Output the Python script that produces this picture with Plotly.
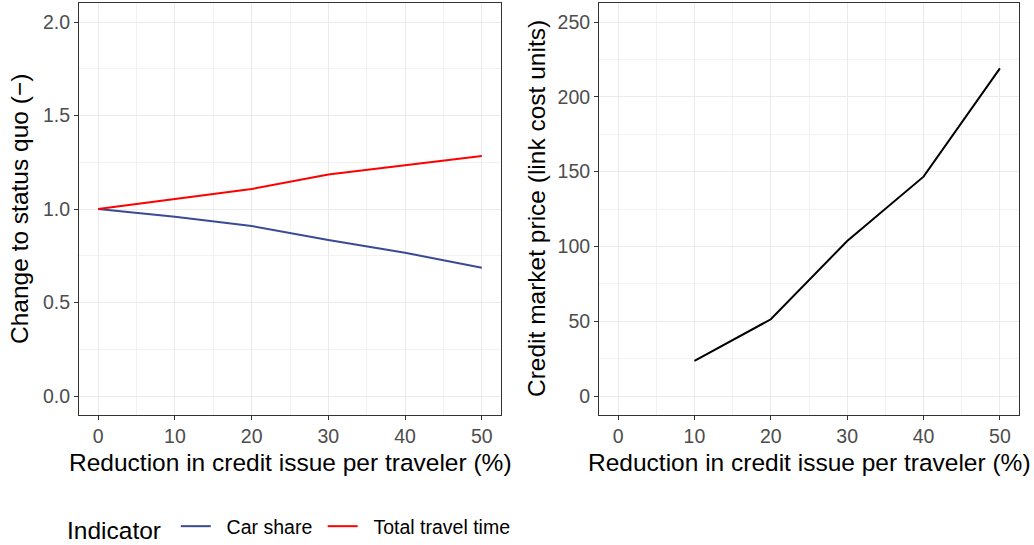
import plotly.graph_objects as go

reduction = [0, 10, 20, 30, 40, 50]
car_share = [1.0, 0.959, 0.909, 0.834, 0.766, 0.686]
travel_time = [1.0, 1.052, 1.107, 1.185, 1.235, 1.283]
price_x = [10, 20, 30, 40, 50]
price = [23.4, 51.3, 103.6, 146.6, 219.0]

left_yticks = [0.0, 0.5, 1.0, 1.5, 2.0]
left_yticktext = ["0.0", "0.5", "1.0", "1.5", "2.0"]
right_yticks = [0, 50, 100, 150, 200, 250]
xticks = [0, 10, 20, 30, 40, 50]

FONT = "Liberation Sans, Arial, Helvetica, sans-serif"
W, H = 1034, 545
TICK_SIZE = 19.5
TITLE_SIZE = 24.5
NB = "\u00a0"

fig = go.Figure()
fig.add_trace(go.Scatter(x=reduction, y=car_share, mode="lines", name=NB * 2 + "Car share" + NB,
                         line=dict(color="#3A4A94", width=2), xaxis="x", yaxis="y"))
fig.add_trace(go.Scatter(x=reduction, y=travel_time, mode="lines", name=NB * 2 + "Total travel time",
                         line=dict(color="#FF0000", width=2), xaxis="x", yaxis="y"))
fig.add_trace(go.Scatter(x=price_x, y=price, mode="lines", name="price", showlegend=False,
                         line=dict(color="#000000", width=2), xaxis="x2", yaxis="y2"))

ydom = [1 - 414.7 / H, 1 - 3.3 / H]
common_axis = dict(
    showline=True, linecolor="#333333", linewidth=1, mirror=True,
    ticks="outside", ticklen=4, tickcolor="#333333", tickwidth=1,
    showgrid=True, gridcolor="#EBEBEB", gridwidth=1.1, zeroline=False,
    automargin=False,
    tickfont=dict(family=FONT, size=TICK_SIZE, color="#4D4D4D"),
)
minor_style = dict(showgrid=True, gridcolor="#F2F2F2", gridwidth=0.6, ticks="")
fig.update_layout(
    width=W, height=H,
    margin=dict(l=0, r=0, t=0, b=0, autoexpand=False),
    paper_bgcolor="white", plot_bgcolor="white",
    font=dict(family=FONT),
    xaxis=dict(domain=[79 / W, 501 / W], range=[-2.5, 52.5], tickvals=xticks, anchor="y",
               minor=dict(dtick=5, tick0=0, **minor_style), **common_axis),
    yaxis=dict(domain=ydom, range=[-0.1, 2.1], tickvals=left_yticks, ticktext=left_yticktext,
               anchor="x", minor=dict(dtick=0.25, tick0=0, **minor_style), **common_axis),
    xaxis2=dict(domain=[599 / W, 1019 / W], range=[-2.5, 52.5], tickvals=xticks, anchor="y2",
                minor=dict(dtick=5, tick0=0, **minor_style), **common_axis),
    yaxis2=dict(domain=ydom, range=[-12.5, 262.5], tickvals=right_yticks, anchor="x2",
                minor=dict(dtick=25, tick0=0, **minor_style), **common_axis),
    legend=dict(orientation="h", x=65 / W, xanchor="left", y=1 - 528 / H, yanchor="middle",
                title=dict(text="Indicator" + NB, font=dict(family=FONT, size=TITLE_SIZE, color="black")),
                font=dict(family=FONT, size=TICK_SIZE, color="black"), bgcolor="rgba(0,0,0,0)",
                itemwidth=30, tracegroupgap=0),
    showlegend=True,
)

ann = [
    dict(text="Reduction in credit issue per traveler (%)", x=290 / W, y=1 - 462 / H),
    dict(text="Reduction in credit issue per traveler (%)", x=809 / W, y=1 - 462 / H),
    dict(text="Change to status quo (\u2212)", x=20 / W, y=1 - 209 / H, textangle=-90),
    dict(text="Credit market price (link cost units)", x=537 / W, y=1 - 209 / H, textangle=-90),
]
for a in ann:
    fig.add_annotation(xref="paper", yref="paper", showarrow=False,
                       xanchor="center", yanchor="middle",
                       font=dict(family=FONT, size=TITLE_SIZE, color="black"), **a)

fig.write_html("out.html", config={"displayModeBar": False},
               post_script="document.body.style.margin='0';document.body.style.overflow='hidden';")
